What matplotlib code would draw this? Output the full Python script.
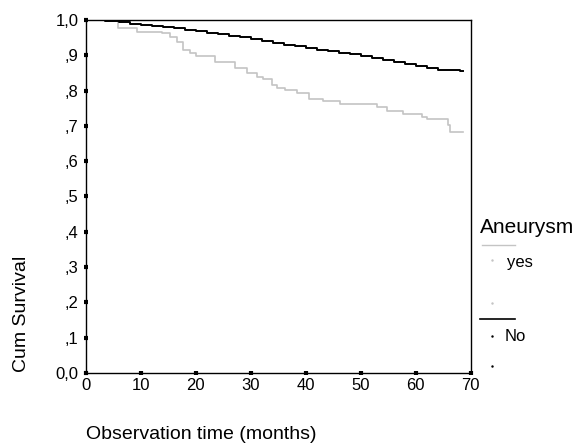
import matplotlib.pyplot as plt
from matplotlib.lines import Line2D

# Dados
tempo_sim = [0, 3.5, 5.8, 9.3, 13.8, 15.3, 16.5, 17.7, 18.9, 20.1, 23.5, 27.1, 29.2, 31.1,
             32.2, 33.8, 34.7, 36.2, 38.3, 40.5, 43.1, 46.2, 52.9, 54.7, 57.6, 61.1, 62.0,
             65.8, 66.2, 68.5]
surv_sim = [1.0, 1.0, 0.977, 0.967, 0.963, 0.952, 0.939, 0.915, 0.906, 0.898, 0.882, 0.864,
            0.851, 0.839, 0.833, 0.816, 0.807, 0.802, 0.793, 0.777, 0.771, 0.762, 0.753,
            0.742, 0.733, 0.726, 0.719, 0.702, 0.684, 0.684]

tempo_nao = [0, 3.5, 6, 8, 10, 12, 14, 16, 18, 20, 22, 24, 26, 28, 30, 32, 34, 36, 38, 40,
             42, 44, 46, 48, 50, 52, 54, 56, 58, 60, 62, 64, 66, 68, 68.5]
surv_nao = [1.0, 0.997, 0.993, 0.99, 0.987, 0.984, 0.98, 0.976, 0.972, 0.968, 0.964, 0.96,
            0.956, 0.951, 0.946, 0.941, 0.936, 0.93, 0.925, 0.92, 0.915, 0.911, 0.907, 0.903,
            0.898, 0.892, 0.886, 0.881, 0.875, 0.869, 0.864, 0.859, 0.857, 0.855, 0.855]

xticks = [0, 10, 20, 30, 40, 50, 60, 70]
yticks = [0.0, 0.1, 0.2, 0.3, 0.4, 0.5, 0.6, 0.7, 0.8, 0.9, 1.0]
ylabels = ['0,0', ',1', ',2', ',3', ',4', ',5', ',6', ',7', ',8', ',9', '1,0']

cinza = '#c4c4c4'
plt.rcParams['font.family'] = ['Liberation Sans', 'DejaVu Sans']

fig = plt.figure(figsize=(5.77, 4.44), dpi=100)
ax = fig.add_axes([0.149, 0.16, 0.667, 0.795])

ax.step(tempo_sim, surv_sim, where='post', color=cinza, lw=1.2)
ax.step(tempo_nao, surv_nao, where='post', color='black', lw=1.4)

ax.set_xlim(0, 70)
ax.set_ylim(0, 1)
ax.set_xticks(xticks)
ax.set_yticks(yticks)
ax.set_yticklabels(ylabels)
ax.tick_params(direction='inout', length=3, width=3, labelsize=12)
ax.tick_params(axis='y', pad=4)
ax.tick_params(axis='x', pad=2)
for s in ax.spines.values():
    s.set_linewidth(1)

# Rótulos dos eixos
fig.text(0.038, 0.162, 'Cum Survival', rotation=90, fontsize=14, va='bottom', ha='center')
fig.text(0.149, 0.003, 'Observation time (months)', fontsize=14, ha='left', va='bottom')

# Legenda manual
fig.text(0.832, 0.487, 'Aneurysm', fontsize=15, ha='left', va='center')
fig.add_artist(Line2D([0.835, 0.893], [0.448, 0.448], color=cinza, lw=1))
fig.text(0.878, 0.408, 'yes', fontsize=12, ha='left', va='center')
fig.add_artist(Line2D([0.832, 0.893], [0.282, 0.282], color='black', lw=1.2))
fig.text(0.875, 0.241, 'No', fontsize=12, ha='left', va='center')
for yy, cc in [(0.414, cinza), (0.318, cinza), (0.243, 'black'), (0.176, 'black')]:
    fig.add_artist(Line2D([0.853], [yy], marker='.', ms=1.5, color=cc, lw=0))

fig.savefig('out.png', dpi=100)
